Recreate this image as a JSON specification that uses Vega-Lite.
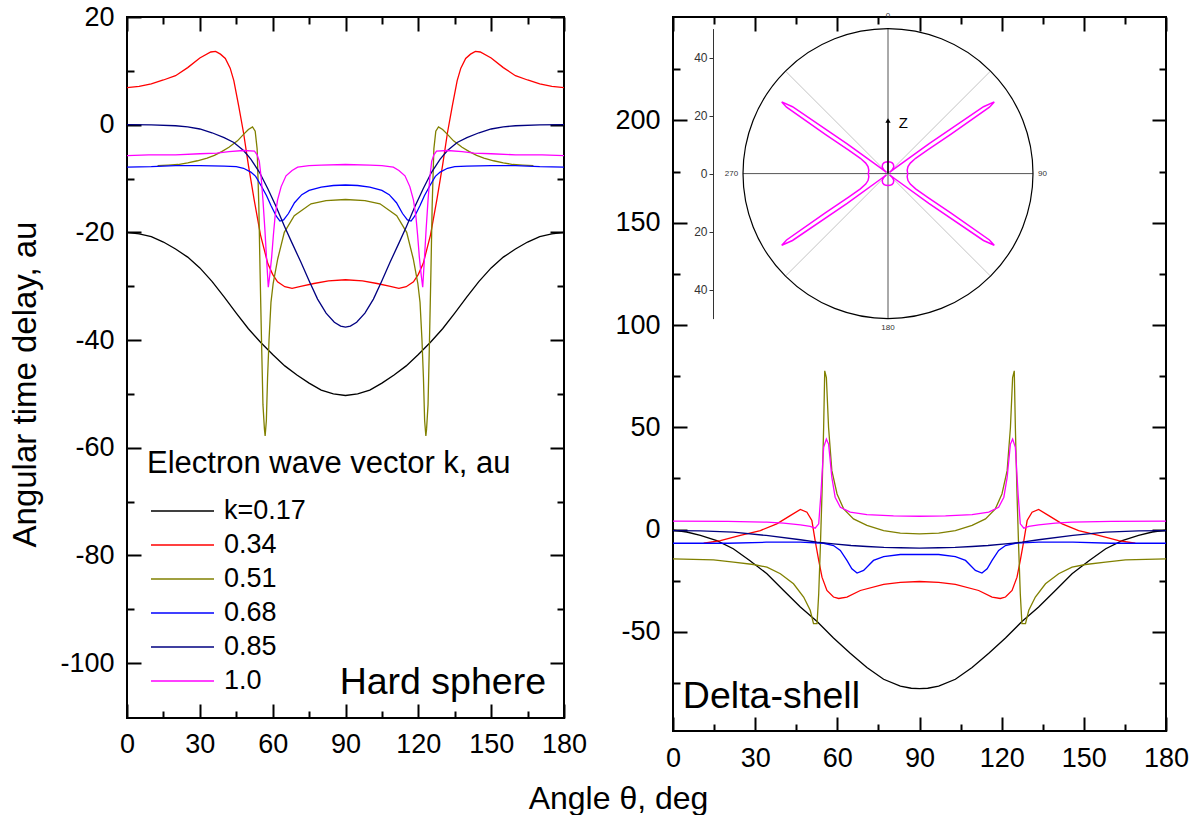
{
 "$schema": "https://vega.github.io/schema/vega-lite/v6.json",
 "background": "white",
 "padding": {"left": 8, "top": 2, "right": 0, "bottom": 0},
 "config": {
  "view": {"stroke": "black", "strokeWidth": 2},
  "font": "Liberation Sans",
  "axis": {"grid": false, "domain": false, "labelFlush": false, "labelOverlap": false, "labelFont": "Liberation Sans", "titleFont": "Liberation Sans", "labelColor": "black", "tickColor": "black", "tickWidth": 2, "titleColor": "black", "titleFontWeight": "normal"},
  "text": {"font": "Liberation Sans"}
 },
 "datasets": {
  "hard": [
   {"k":"k=0.17","theta":0,"delay":-20},{"k":"k=0.17","theta":5,"delay":-20.3},{"k":"k=0.17","theta":10,"delay":-20.8},{"k":"k=0.17","theta":15,"delay":-21.8},{"k":"k=0.17","theta":20,"delay":-23.1},{"k":"k=0.17","theta":25,"delay":-24.6},{"k":"k=0.17","theta":30,"delay":-26.6},{"k":"k=0.17","theta":35,"delay":-29.1},{"k":"k=0.17","theta":40,"delay":-32},{"k":"k=0.17","theta":45,"delay":-35},{"k":"k=0.17","theta":50,"delay":-37.9},{"k":"k=0.17","theta":55,"delay":-40.4},{"k":"k=0.17","theta":60,"delay":-42.7},{"k":"k=0.17","theta":65,"delay":-44.8},{"k":"k=0.17","theta":70,"delay":-46.5},{"k":"k=0.17","theta":75,"delay":-48},{"k":"k=0.17","theta":80,"delay":-49.3},{"k":"k=0.17","theta":85,"delay":-50},{"k":"k=0.17","theta":90,"delay":-50.3},{"k":"k=0.17","theta":95,"delay":-50},{"k":"k=0.17","theta":100,"delay":-49.3},{"k":"k=0.17","theta":105,"delay":-48},{"k":"k=0.17","theta":110,"delay":-46.5},{"k":"k=0.17","theta":115,"delay":-44.8},{"k":"k=0.17","theta":120,"delay":-42.7},{"k":"k=0.17","theta":125,"delay":-40.4},{"k":"k=0.17","theta":130,"delay":-37.9},{"k":"k=0.17","theta":135,"delay":-35},{"k":"k=0.17","theta":140,"delay":-32},{"k":"k=0.17","theta":145,"delay":-29.1},{"k":"k=0.17","theta":150,"delay":-26.6},{"k":"k=0.17","theta":155,"delay":-24.6},{"k":"k=0.17","theta":160,"delay":-23.1},{"k":"k=0.17","theta":165,"delay":-21.8},{"k":"k=0.17","theta":170,"delay":-20.8},{"k":"k=0.17","theta":175,"delay":-20.3},{"k":"k=0.17","theta":180,"delay":-20},
   {"k":"0.34","theta":0,"delay":6.9},{"k":"0.34","theta":5,"delay":7.1},{"k":"0.34","theta":10,"delay":7.6},{"k":"0.34","theta":15,"delay":8.3},{"k":"0.34","theta":20,"delay":9.1},{"k":"0.34","theta":25,"delay":10.6},{"k":"0.34","theta":30,"delay":12.4},{"k":"0.34","theta":34.5,"delay":13.5},{"k":"0.34","theta":36.5,"delay":13.6},{"k":"0.34","theta":38.5,"delay":13.1},{"k":"0.34","theta":40.5,"delay":12.3},{"k":"0.34","theta":42.5,"delay":10.5},{"k":"0.34","theta":44,"delay":8.2},{"k":"0.34","theta":46,"delay":3.5},{"k":"0.34","theta":48,"delay":-1.5},{"k":"0.34","theta":50,"delay":-7.5},{"k":"0.34","theta":52.4,"delay":-14},{"k":"0.34","theta":55,"delay":-20.5},{"k":"0.34","theta":58,"delay":-25.8},{"k":"0.34","theta":60,"delay":-27.8},{"k":"0.34","theta":62,"delay":-29.2},{"k":"0.34","theta":65,"delay":-30.1},{"k":"0.34","theta":68,"delay":-30.4},{"k":"0.34","theta":72,"delay":-30},{"k":"0.34","theta":77,"delay":-29.5},{"k":"0.34","theta":83,"delay":-29},{"k":"0.34","theta":90,"delay":-28.8},{"k":"0.34","theta":97,"delay":-29},{"k":"0.34","theta":103,"delay":-29.5},{"k":"0.34","theta":108,"delay":-30},{"k":"0.34","theta":112,"delay":-30.4},{"k":"0.34","theta":115,"delay":-30.1},{"k":"0.34","theta":118,"delay":-29.2},{"k":"0.34","theta":120,"delay":-27.8},{"k":"0.34","theta":122,"delay":-25.8},{"k":"0.34","theta":125,"delay":-20.5},{"k":"0.34","theta":127.6,"delay":-14},{"k":"0.34","theta":130,"delay":-7.5},{"k":"0.34","theta":132,"delay":-1.5},{"k":"0.34","theta":134,"delay":3.5},{"k":"0.34","theta":136,"delay":8.2},{"k":"0.34","theta":137.5,"delay":10.5},{"k":"0.34","theta":139.5,"delay":12.3},{"k":"0.34","theta":141.5,"delay":13.1},{"k":"0.34","theta":143.5,"delay":13.6},{"k":"0.34","theta":145.5,"delay":13.5},{"k":"0.34","theta":150,"delay":12.4},{"k":"0.34","theta":155,"delay":10.6},{"k":"0.34","theta":160,"delay":9.1},{"k":"0.34","theta":165,"delay":8.3},{"k":"0.34","theta":170,"delay":7.6},{"k":"0.34","theta":175,"delay":7.1},{"k":"0.34","theta":180,"delay":6.9},
   {"k":"0.51","theta":12.6,"delay":-7.6},{"k":"0.51","theta":17,"delay":-7.5},{"k":"0.51","theta":21,"delay":-7.4},{"k":"0.51","theta":25,"delay":-7.1},{"k":"0.51","theta":29,"delay":-6.7},{"k":"0.51","theta":33,"delay":-6.2},{"k":"0.51","theta":36,"delay":-5.7},{"k":"0.51","theta":39,"delay":-5},{"k":"0.51","theta":42,"delay":-4.2},{"k":"0.51","theta":45.5,"delay":-3},{"k":"0.51","theta":48,"delay":-1.8},{"k":"0.51","theta":50,"delay":-0.9},{"k":"0.51","theta":51.7,"delay":-0.4},{"k":"0.51","theta":52.8,"delay":-1.2},{"k":"0.51","theta":53.6,"delay":-4.5},{"k":"0.51","theta":54.3,"delay":-15},{"k":"0.51","theta":54.8,"delay":-27},{"k":"0.51","theta":55.4,"delay":-40},{"k":"0.51","theta":56,"delay":-52},{"k":"0.51","theta":56.6,"delay":-56.5},{"k":"0.51","theta":56.9,"delay":-57.8},{"k":"0.51","theta":57.4,"delay":-55},{"k":"0.51","theta":57.9,"delay":-47},{"k":"0.51","theta":58.5,"delay":-40},{"k":"0.51","theta":59.3,"delay":-33},{"k":"0.51","theta":60.2,"delay":-29.5},{"k":"0.51","theta":62.1,"delay":-24.9},{"k":"0.51","theta":64.8,"delay":-20},{"k":"0.51","theta":68.9,"delay":-16.9},{"k":"0.51","theta":75.8,"delay":-14.7},{"k":"0.51","theta":82,"delay":-14.1},{"k":"0.51","theta":90,"delay":-13.9},{"k":"0.51","theta":98,"delay":-14.1},{"k":"0.51","theta":104.2,"delay":-14.7},{"k":"0.51","theta":111.1,"delay":-16.9},{"k":"0.51","theta":115.2,"delay":-20},{"k":"0.51","theta":117.9,"delay":-24.9},{"k":"0.51","theta":119.8,"delay":-29.5},{"k":"0.51","theta":120.7,"delay":-33},{"k":"0.51","theta":121.5,"delay":-40},{"k":"0.51","theta":122.1,"delay":-47},{"k":"0.51","theta":122.6,"delay":-55},{"k":"0.51","theta":123.1,"delay":-57.8},{"k":"0.51","theta":123.4,"delay":-56.5},{"k":"0.51","theta":124,"delay":-52},{"k":"0.51","theta":124.6,"delay":-40},{"k":"0.51","theta":125.2,"delay":-27},{"k":"0.51","theta":125.7,"delay":-15},{"k":"0.51","theta":126.4,"delay":-4.5},{"k":"0.51","theta":127.2,"delay":-1.2},{"k":"0.51","theta":128.3,"delay":-0.4},{"k":"0.51","theta":130,"delay":-0.9},{"k":"0.51","theta":132,"delay":-1.8},{"k":"0.51","theta":134.5,"delay":-3},{"k":"0.51","theta":138,"delay":-4.2},{"k":"0.51","theta":141,"delay":-5},{"k":"0.51","theta":144,"delay":-5.7},{"k":"0.51","theta":147,"delay":-6.2},{"k":"0.51","theta":151,"delay":-6.7},{"k":"0.51","theta":155,"delay":-7.1},{"k":"0.51","theta":159,"delay":-7.4},{"k":"0.51","theta":163,"delay":-7.5},{"k":"0.51","theta":167.4,"delay":-7.6},
   {"k":"0.68","theta":0,"delay":-7.9},{"k":"0.68","theta":10,"delay":-7.8},{"k":"0.68","theta":20,"delay":-7.6},{"k":"0.68","theta":30,"delay":-7.6},{"k":"0.68","theta":40,"delay":-7.7},{"k":"0.68","theta":45,"delay":-7.8},{"k":"0.68","theta":48,"delay":-8.1},{"k":"0.68","theta":51,"delay":-8.8},{"k":"0.68","theta":53,"delay":-9.6},{"k":"0.68","theta":55.2,"delay":-11.3},{"k":"0.68","theta":57.5,"delay":-13.2},{"k":"0.68","theta":59.3,"delay":-15},{"k":"0.68","theta":61.5,"delay":-17},{"k":"0.68","theta":63,"delay":-17.9},{"k":"0.68","theta":64.5,"delay":-17.7},{"k":"0.68","theta":66.5,"delay":-16.5},{"k":"0.68","theta":69,"delay":-14.5},{"k":"0.68","theta":72,"delay":-13},{"k":"0.68","theta":75,"delay":-12.2},{"k":"0.68","theta":80,"delay":-11.6},{"k":"0.68","theta":85,"delay":-11.3},{"k":"0.68","theta":90,"delay":-11.2},{"k":"0.68","theta":95,"delay":-11.3},{"k":"0.68","theta":100,"delay":-11.6},{"k":"0.68","theta":105,"delay":-12.2},{"k":"0.68","theta":108,"delay":-13},{"k":"0.68","theta":111,"delay":-14.5},{"k":"0.68","theta":113.5,"delay":-16.5},{"k":"0.68","theta":115.5,"delay":-17.7},{"k":"0.68","theta":117,"delay":-17.9},{"k":"0.68","theta":118.5,"delay":-17},{"k":"0.68","theta":120.7,"delay":-15},{"k":"0.68","theta":122.5,"delay":-13.2},{"k":"0.68","theta":124.8,"delay":-11.3},{"k":"0.68","theta":127,"delay":-9.6},{"k":"0.68","theta":129,"delay":-8.8},{"k":"0.68","theta":132,"delay":-8.1},{"k":"0.68","theta":135,"delay":-7.8},{"k":"0.68","theta":140,"delay":-7.7},{"k":"0.68","theta":150,"delay":-7.6},{"k":"0.68","theta":160,"delay":-7.6},{"k":"0.68","theta":170,"delay":-7.8},{"k":"0.68","theta":180,"delay":-7.9},
   {"k":"0.85","theta":0,"delay":0},{"k":"0.85","theta":10,"delay":-0.05},{"k":"0.85","theta":20,"delay":-0.2},{"k":"0.85","theta":25,"delay":-0.4},{"k":"0.85","theta":30,"delay":-0.8},{"k":"0.85","theta":35,"delay":-1.5},{"k":"0.85","theta":40,"delay":-2.4},{"k":"0.85","theta":44,"delay":-3.3},{"k":"0.85","theta":48,"delay":-4.8},{"k":"0.85","theta":51,"delay":-6.4},{"k":"0.85","theta":54.5,"delay":-8.8},{"k":"0.85","theta":58,"delay":-11.9},{"k":"0.85","theta":61.5,"delay":-15.3},{"k":"0.85","theta":64.8,"delay":-18.8},{"k":"0.85","theta":68,"delay":-22},{"k":"0.85","theta":71.7,"delay":-25.6},{"k":"0.85","theta":75,"delay":-29},{"k":"0.85","theta":78.5,"delay":-32.4},{"k":"0.85","theta":82,"delay":-35},{"k":"0.85","theta":85.4,"delay":-36.7},{"k":"0.85","theta":88,"delay":-37.4},{"k":"0.85","theta":90,"delay":-37.6},{"k":"0.85","theta":92,"delay":-37.4},{"k":"0.85","theta":94.6,"delay":-36.7},{"k":"0.85","theta":98,"delay":-35},{"k":"0.85","theta":101.5,"delay":-32.4},{"k":"0.85","theta":105,"delay":-29},{"k":"0.85","theta":108.3,"delay":-25.6},{"k":"0.85","theta":112,"delay":-22},{"k":"0.85","theta":115.2,"delay":-18.8},{"k":"0.85","theta":118.5,"delay":-15.3},{"k":"0.85","theta":122,"delay":-11.9},{"k":"0.85","theta":125.5,"delay":-8.8},{"k":"0.85","theta":129,"delay":-6.4},{"k":"0.85","theta":132,"delay":-4.8},{"k":"0.85","theta":136,"delay":-3.3},{"k":"0.85","theta":140,"delay":-2.4},{"k":"0.85","theta":145,"delay":-1.5},{"k":"0.85","theta":150,"delay":-0.8},{"k":"0.85","theta":155,"delay":-0.4},{"k":"0.85","theta":160,"delay":-0.2},{"k":"0.85","theta":170,"delay":-0.05},{"k":"0.85","theta":180,"delay":0},
   {"k":"1.0","theta":0,"delay":-5.75},{"k":"1.0","theta":9,"delay":-5.6},{"k":"1.0","theta":20,"delay":-5.6},{"k":"1.0","theta":30,"delay":-5.4},{"k":"1.0","theta":37,"delay":-5.3},{"k":"1.0","theta":42,"delay":-5},{"k":"1.0","theta":48,"delay":-4.8},{"k":"1.0","theta":52.5,"delay":-4.9},{"k":"1.0","theta":53.6,"delay":-5.6},{"k":"1.0","theta":54.5,"delay":-6.8},{"k":"1.0","theta":55.3,"delay":-10},{"k":"1.0","theta":56,"delay":-14},{"k":"1.0","theta":56.8,"delay":-19.5},{"k":"1.0","theta":57.5,"delay":-25},{"k":"1.0","theta":58.2,"delay":-30.2},{"k":"1.0","theta":58.8,"delay":-28},{"k":"1.0","theta":59.6,"delay":-24.5},{"k":"1.0","theta":60.3,"delay":-20.5},{"k":"1.0","theta":61,"delay":-17},{"k":"1.0","theta":62,"delay":-14},{"k":"1.0","theta":63.5,"delay":-11.5},{"k":"1.0","theta":65.5,"delay":-9.5},{"k":"1.0","theta":68,"delay":-8.5},{"k":"1.0","theta":70.3,"delay":-7.9},{"k":"1.0","theta":75,"delay":-7.6},{"k":"1.0","theta":80,"delay":-7.5},{"k":"1.0","theta":90,"delay":-7.4},{"k":"1.0","theta":100,"delay":-7.5},{"k":"1.0","theta":105,"delay":-7.6},{"k":"1.0","theta":109.7,"delay":-7.9},{"k":"1.0","theta":112,"delay":-8.5},{"k":"1.0","theta":114.5,"delay":-9.5},{"k":"1.0","theta":116.5,"delay":-11.5},{"k":"1.0","theta":118,"delay":-14},{"k":"1.0","theta":119,"delay":-17},{"k":"1.0","theta":119.7,"delay":-20.5},{"k":"1.0","theta":120.4,"delay":-24.5},{"k":"1.0","theta":121.2,"delay":-28},{"k":"1.0","theta":121.8,"delay":-30.2},{"k":"1.0","theta":122.5,"delay":-25},{"k":"1.0","theta":123.2,"delay":-19.5},{"k":"1.0","theta":124,"delay":-14},{"k":"1.0","theta":124.7,"delay":-10},{"k":"1.0","theta":125.5,"delay":-6.8},{"k":"1.0","theta":126.4,"delay":-5.6},{"k":"1.0","theta":127.5,"delay":-4.9},{"k":"1.0","theta":132,"delay":-4.8},{"k":"1.0","theta":138,"delay":-5},{"k":"1.0","theta":143,"delay":-5.3},{"k":"1.0","theta":150,"delay":-5.4},{"k":"1.0","theta":160,"delay":-5.6},{"k":"1.0","theta":171,"delay":-5.6},{"k":"1.0","theta":180,"delay":-5.75}
  ],
  "delta": [
   {"k":"k=0.17","theta":0,"delay":-0.3},{"k":"k=0.17","theta":5,"delay":-1.2},{"k":"k=0.17","theta":10,"delay":-2.9},{"k":"k=0.17","theta":16,"delay":-5.4},{"k":"k=0.17","theta":22,"delay":-9.4},{"k":"k=0.17","theta":28,"delay":-15.1},{"k":"k=0.17","theta":34.3,"delay":-21.6},{"k":"k=0.17","theta":40.4,"delay":-29.8},{"k":"k=0.17","theta":46.5,"delay":-37.9},{"k":"k=0.17","theta":52.6,"delay":-45},{"k":"k=0.17","theta":58.6,"delay":-53},{"k":"k=0.17","theta":64.7,"delay":-60.5},{"k":"k=0.17","theta":70.8,"delay":-67.5},{"k":"k=0.17","theta":76.9,"delay":-73.2},{"k":"k=0.17","theta":83,"delay":-76.6},{"k":"k=0.17","theta":87,"delay":-77.6},{"k":"k=0.17","theta":90,"delay":-77.8},{"k":"k=0.17","theta":93,"delay":-77.6},{"k":"k=0.17","theta":97,"delay":-76.6},{"k":"k=0.17","theta":103.1,"delay":-73.2},{"k":"k=0.17","theta":109.2,"delay":-67.5},{"k":"k=0.17","theta":115.3,"delay":-60.5},{"k":"k=0.17","theta":121.4,"delay":-53},{"k":"k=0.17","theta":127.4,"delay":-45},{"k":"k=0.17","theta":133.5,"delay":-37.9},{"k":"k=0.17","theta":139.6,"delay":-29.8},{"k":"k=0.17","theta":145.7,"delay":-21.6},{"k":"k=0.17","theta":152,"delay":-15.1},{"k":"k=0.17","theta":158,"delay":-9.4},{"k":"k=0.17","theta":164,"delay":-5.4},{"k":"k=0.17","theta":170,"delay":-2.9},{"k":"k=0.17","theta":175,"delay":-1.2},{"k":"k=0.17","theta":180,"delay":-0.3},
   {"k":"0.34","theta":11.2,"delay":-6.7},{"k":"0.34","theta":17.3,"delay":-5.4},{"k":"0.34","theta":24.6,"delay":-2.9},{"k":"0.34","theta":31.9,"delay":-0.5},{"k":"0.34","theta":37.9,"delay":2.8},{"k":"0.34","theta":42.8,"delay":6.8},{"k":"0.34","theta":46.5,"delay":9.8},{"k":"0.34","theta":48.9,"delay":8.5},{"k":"0.34","theta":50.7,"delay":4.4},{"k":"0.34","theta":51.9,"delay":-5.4},{"k":"0.34","theta":53.2,"delay":-15.1},{"k":"0.34","theta":54.4,"delay":-23.3},{"k":"0.34","theta":56.2,"delay":-29.8},{"k":"0.34","theta":58.6,"delay":-33},{"k":"0.34","theta":60.5,"delay":-33.7},{"k":"0.34","theta":63.5,"delay":-33},{"k":"0.34","theta":68.4,"delay":-29.8},{"k":"0.34","theta":76.9,"delay":-26.8},{"k":"0.34","theta":83,"delay":-25.8},{"k":"0.34","theta":90,"delay":-25.4},{"k":"0.34","theta":97,"delay":-25.8},{"k":"0.34","theta":103.1,"delay":-26.8},{"k":"0.34","theta":111.6,"delay":-29.8},{"k":"0.34","theta":116.5,"delay":-33},{"k":"0.34","theta":119.5,"delay":-33.7},{"k":"0.34","theta":121.4,"delay":-33},{"k":"0.34","theta":123.8,"delay":-29.8},{"k":"0.34","theta":125.6,"delay":-23.3},{"k":"0.34","theta":126.8,"delay":-15.1},{"k":"0.34","theta":128.1,"delay":-5.4},{"k":"0.34","theta":129.3,"delay":4.4},{"k":"0.34","theta":131.1,"delay":8.5},{"k":"0.34","theta":133.5,"delay":9.8},{"k":"0.34","theta":137.2,"delay":6.8},{"k":"0.34","theta":142.1,"delay":2.8},{"k":"0.34","theta":148.1,"delay":-0.5},{"k":"0.34","theta":155.4,"delay":-2.9},{"k":"0.34","theta":162.7,"delay":-5.4},{"k":"0.34","theta":168.8,"delay":-6.7},
   {"k":"0.51","theta":0,"delay":-14.3},{"k":"0.51","theta":14.8,"delay":-14.8},{"k":"0.51","theta":22.1,"delay":-15.9},{"k":"0.51","theta":29.4,"delay":-17.1},{"k":"0.51","theta":34.3,"delay":-18.4},{"k":"0.51","theta":39.2,"delay":-21.6},{"k":"0.51","theta":44,"delay":-26.5},{"k":"0.51","theta":47.7,"delay":-33},{"k":"0.51","theta":50.1,"delay":-39.5},{"k":"0.51","theta":51.3,"delay":-46},{"k":"0.51","theta":52.6,"delay":-46},{"k":"0.51","theta":53.2,"delay":-31.4},{"k":"0.51","theta":53.8,"delay":-8.6},{"k":"0.51","theta":54.4,"delay":17.4},{"k":"0.51","theta":55,"delay":49.9},{"k":"0.51","theta":55.4,"delay":77.6},{"k":"0.51","theta":56,"delay":74.3},{"k":"0.51","theta":56.8,"delay":49.9},{"k":"0.51","theta":58,"delay":28.8},{"k":"0.51","theta":59.9,"delay":17.4},{"k":"0.51","theta":62.3,"delay":10.1},{"k":"0.51","theta":65.9,"delay":5.2},{"k":"0.51","theta":70.8,"delay":2},{"k":"0.51","theta":76.9,"delay":-0.5},{"k":"0.51","theta":83,"delay":-1.8},{"k":"0.51","theta":90,"delay":-2.1},{"k":"0.51","theta":97,"delay":-1.8},{"k":"0.51","theta":103.1,"delay":-0.5},{"k":"0.51","theta":109.2,"delay":2},{"k":"0.51","theta":114.1,"delay":5.2},{"k":"0.51","theta":117.7,"delay":10.1},{"k":"0.51","theta":120.1,"delay":17.4},{"k":"0.51","theta":122,"delay":28.8},{"k":"0.51","theta":123.2,"delay":49.9},{"k":"0.51","theta":124,"delay":74.3},{"k":"0.51","theta":124.6,"delay":77.6},{"k":"0.51","theta":125,"delay":49.9},{"k":"0.51","theta":125.6,"delay":17.4},{"k":"0.51","theta":126.2,"delay":-8.6},{"k":"0.51","theta":126.8,"delay":-31.4},{"k":"0.51","theta":127.4,"delay":-46},{"k":"0.51","theta":128.7,"delay":-46},{"k":"0.51","theta":129.9,"delay":-39.5},{"k":"0.51","theta":132.3,"delay":-33},{"k":"0.51","theta":136,"delay":-26.5},{"k":"0.51","theta":140.8,"delay":-21.6},{"k":"0.51","theta":145.7,"delay":-18.4},{"k":"0.51","theta":150.6,"delay":-17.1},{"k":"0.51","theta":157.9,"delay":-15.9},{"k":"0.51","theta":165.2,"delay":-14.8},{"k":"0.51","theta":180,"delay":-14.3},
   {"k":"0.68","theta":0,"delay":-6.7},{"k":"0.68","theta":20,"delay":-6.7},{"k":"0.68","theta":34,"delay":-6.2},{"k":"0.68","theta":46.5,"delay":-6.2},{"k":"0.68","theta":55,"delay":-6.7},{"k":"0.68","theta":58.6,"delay":-7.8},{"k":"0.68","theta":61.1,"delay":-10.2},{"k":"0.68","theta":63.5,"delay":-15.1},{"k":"0.68","theta":65.3,"delay":-19.2},{"k":"0.68","theta":67.2,"delay":-21.3},{"k":"0.68","theta":69.6,"delay":-20},{"k":"0.68","theta":73.2,"delay":-15.1},{"k":"0.68","theta":76.9,"delay":-13.2},{"k":"0.68","theta":83,"delay":-12.2},{"k":"0.68","theta":90,"delay":-12.2},{"k":"0.68","theta":97,"delay":-12.2},{"k":"0.68","theta":103.1,"delay":-13.2},{"k":"0.68","theta":106.8,"delay":-15.1},{"k":"0.68","theta":110.4,"delay":-20},{"k":"0.68","theta":112.8,"delay":-21.3},{"k":"0.68","theta":114.7,"delay":-19.2},{"k":"0.68","theta":116.5,"delay":-15.1},{"k":"0.68","theta":118.9,"delay":-10.2},{"k":"0.68","theta":121.4,"delay":-7.8},{"k":"0.68","theta":125,"delay":-6.7},{"k":"0.68","theta":133.5,"delay":-6.2},{"k":"0.68","theta":146,"delay":-6.2},{"k":"0.68","theta":160,"delay":-6.7},{"k":"0.68","theta":180,"delay":-6.7},
   {"k":"0.85","theta":0,"delay":-0.5},{"k":"0.85","theta":10,"delay":-0.7},{"k":"0.85","theta":22,"delay":-1.3},{"k":"0.85","theta":34,"delay":-2.9},{"k":"0.85","theta":46.5,"delay":-5},{"k":"0.85","theta":52.6,"delay":-6.2},{"k":"0.85","theta":58.6,"delay":-7},{"k":"0.85","theta":65,"delay":-7.8},{"k":"0.85","theta":70.8,"delay":-8.3},{"k":"0.85","theta":77,"delay":-8.7},{"k":"0.85","theta":83,"delay":-8.9},{"k":"0.85","theta":90,"delay":-9.1},{"k":"0.85","theta":97,"delay":-8.9},{"k":"0.85","theta":103,"delay":-8.7},{"k":"0.85","theta":109.2,"delay":-8.3},{"k":"0.85","theta":115,"delay":-7.8},{"k":"0.85","theta":121.4,"delay":-7},{"k":"0.85","theta":127.4,"delay":-6.2},{"k":"0.85","theta":133.5,"delay":-5},{"k":"0.85","theta":146,"delay":-2.9},{"k":"0.85","theta":158,"delay":-1.3},{"k":"0.85","theta":170,"delay":-0.7},{"k":"0.85","theta":180,"delay":-0.5},
   {"k":"1.0","theta":0,"delay":4.1},{"k":"1.0","theta":20,"delay":4},{"k":"1.0","theta":34.3,"delay":3.6},{"k":"1.0","theta":40.4,"delay":3.1},{"k":"1.0","theta":46.5,"delay":2.3},{"k":"1.0","theta":50.1,"delay":1.6},{"k":"1.0","theta":51.9,"delay":0.7},{"k":"1.0","theta":53.2,"delay":2.8},{"k":"1.0","theta":54,"delay":17.4},{"k":"1.0","theta":55,"delay":40.2},{"k":"1.0","theta":56,"delay":44.2},{"k":"1.0","theta":56.8,"delay":41.8},{"k":"1.0","theta":58,"delay":25.5},{"k":"1.0","theta":59.2,"delay":15.8},{"k":"1.0","theta":61.1,"delay":10.9},{"k":"1.0","theta":64.7,"delay":8.5},{"k":"1.0","theta":70.8,"delay":7.3},{"k":"1.0","theta":80.5,"delay":6.7},{"k":"1.0","theta":90,"delay":6.5},{"k":"1.0","theta":99.5,"delay":6.7},{"k":"1.0","theta":109.2,"delay":7.3},{"k":"1.0","theta":115.3,"delay":8.5},{"k":"1.0","theta":118.9,"delay":10.9},{"k":"1.0","theta":120.8,"delay":15.8},{"k":"1.0","theta":122,"delay":25.5},{"k":"1.0","theta":123.2,"delay":41.8},{"k":"1.0","theta":124,"delay":44.2},{"k":"1.0","theta":125,"delay":40.2},{"k":"1.0","theta":126,"delay":17.4},{"k":"1.0","theta":126.8,"delay":2.8},{"k":"1.0","theta":128.1,"delay":0.7},{"k":"1.0","theta":129.9,"delay":1.6},{"k":"1.0","theta":133.5,"delay":2.3},{"k":"1.0","theta":139.6,"delay":3.1},{"k":"1.0","theta":145.7,"delay":3.6},{"k":"1.0","theta":160,"delay":4},{"k":"1.0","theta":180,"delay":4.1}
  ],
  "polar": [
   {"o":1,"px":0,"py":4.1},{"o":2,"px":0.71,"py":4.04},{"o":3,"px":1.37,"py":3.76},{"o":4,"px":1.85,"py":3.2},{"o":5,"px":1.99,"py":2.37},{"o":6,"px":1.65,"py":1.6},{"o":7,"px":1.23,"py":1.03},{"o":8,"px":0.55,"py":0.43},{"o":9,"px":2.24,"py":1.69},{"o":10,"px":14.08,"py":10.23},{"o":11,"px":32.93,"py":23.06},{"o":12,"px":36.64,"py":24.72},{"o":13,"px":34.98,"py":22.89},{"o":14,"px":21.63,"py":13.51},{"o":15,"px":13.57,"py":8.09},{"o":16,"px":9.53,"py":5.28},{"o":17,"px":7.69,"py":3.63},{"o":18,"px":6.89,"py":2.4},{"o":19,"px":6.61,"py":1.11},{"o":20,"px":6.8,"py":0},
   {"o":21,"px":6.61,"py":-1.11},{"o":22,"px":6.89,"py":-2.4},{"o":23,"px":7.69,"py":-3.63},{"o":24,"px":9.53,"py":-5.28},{"o":25,"px":13.57,"py":-8.09},{"o":26,"px":21.63,"py":-13.51},{"o":27,"px":34.98,"py":-22.89},{"o":28,"px":36.64,"py":-24.72},{"o":29,"px":32.93,"py":-23.06},{"o":30,"px":14.08,"py":-10.23},{"o":31,"px":2.24,"py":-1.69},{"o":32,"px":0.55,"py":-0.43},{"o":33,"px":1.23,"py":-1.03},{"o":34,"px":1.65,"py":-1.6},{"o":35,"px":1.99,"py":-2.37},{"o":36,"px":1.85,"py":-3.2},{"o":37,"px":1.37,"py":-3.76},{"o":38,"px":0.71,"py":-4.04},{"o":39,"px":0,"py":-4.1},
   {"o":40,"px":-0.71,"py":-4.04},{"o":41,"px":-1.37,"py":-3.76},{"o":42,"px":-1.85,"py":-3.2},{"o":43,"px":-1.99,"py":-2.37},{"o":44,"px":-1.65,"py":-1.6},{"o":45,"px":-1.23,"py":-1.03},{"o":46,"px":-0.55,"py":-0.43},{"o":47,"px":-2.24,"py":-1.69},{"o":48,"px":-14.08,"py":-10.23},{"o":49,"px":-32.93,"py":-23.06},{"o":50,"px":-36.64,"py":-24.72},{"o":51,"px":-34.98,"py":-22.89},{"o":52,"px":-21.63,"py":-13.51},{"o":53,"px":-13.57,"py":-8.09},{"o":54,"px":-9.53,"py":-5.28},{"o":55,"px":-7.69,"py":-3.63},{"o":56,"px":-6.89,"py":-2.4},{"o":57,"px":-6.61,"py":-1.11},{"o":58,"px":-6.8,"py":0},
   {"o":59,"px":-6.61,"py":1.11},{"o":60,"px":-6.89,"py":2.4},{"o":61,"px":-7.69,"py":3.63},{"o":62,"px":-9.53,"py":5.28},{"o":63,"px":-13.57,"py":8.09},{"o":64,"px":-21.63,"py":13.51},{"o":65,"px":-34.98,"py":22.89},{"o":66,"px":-36.64,"py":24.72},{"o":67,"px":-32.93,"py":23.06},{"o":68,"px":-14.08,"py":10.23},{"o":69,"px":-2.24,"py":1.69},{"o":70,"px":-0.55,"py":0.43},{"o":71,"px":-1.23,"py":1.03},{"o":72,"px":-1.65,"py":1.6},{"o":73,"px":-1.99,"py":2.37},{"o":74,"px":-1.85,"py":3.2},{"o":75,"px":-1.37,"py":3.76},{"o":76,"px":-0.71,"py":4.04},{"o":77,"px":0,"py":4.1}
  ]
 },
 "spacing": 109,
 "bounds": "flush",
 "resolve": {"scale": {"color": "independent"}, "legend": {"color": "independent"}},
 "hconcat": [
  {
   "width": 437,
   "height": 701,
   "resolve": {"axis": {"x": "independent", "y": "independent"}},
   "layer": [
    {
     "data": {"name": "hard"},
     "mark": {"type": "line", "strokeWidth": 1.3},
     "encoding": {
      "x": {"field": "theta", "type": "quantitative", "scale": {"domain": [0, 180], "nice": false, "zero": false},
            "axis": {"orient": "bottom", "values": [0, 30, 60, 90, 120, 150, 180], "labelExpr": "'' + datum.value", "tickSize": -14, "labelFontSize": 27, "labelPadding": 27, "title": "Angle θ, deg", "titleFontSize": 32, "titleX": 491, "titleY": 90, "titleAlign": "center", "titleBaseline": "alphabetic"}},
      "y": {"field": "delay", "type": "quantitative", "scale": {"domain": [-110.2, 20], "nice": false, "zero": false},
            "axis": {"orient": "left", "values": [-100, -80, -60, -40, -20, 0, 20], "labelExpr": "'' + datum.value", "tickSize": -14, "labelFontSize": 27, "labelPadding": 27, "title": "Angular time delay, au", "titleFontSize": 33, "titleX": -92, "titleY": 367, "titleAngle": 270, "titleAlign": "center", "titleBaseline": "alphabetic"}},
      "color": {"field": "k", "type": "nominal",
                "scale": {"domain": ["k=0.17", "0.34", "0.51", "0.68", "0.85", "1.0"], "range": ["#000000", "#ff0000", "#808000", "#0000ff", "#000080", "#ff00ff"]},
                "legend": {"title": "Electron wave vector k, au", "orient": "none", "legendX": 20, "legendY": 431.5, "titleFontSize": 31, "titleFont": "Liberation Sans", "titleFontWeight": "normal", "titleColor": "black", "titlePadding": 18, "titleLimit": 600, "labelFontSize": 27, "labelFont": "Liberation Sans", "labelColor": "black", "labelLimit": 300, "symbolType": "M-4,0H4", "symbolSize": 248, "symbolStrokeWidth": 1.5, "symbolOffset": 22, "labelOffset": 28, "rowPadding": 6, "padding": 0}}
     }
    },
    {
     "data": {"values": [{"label": "Hard sphere"}]},
     "mark": {"type": "text", "fontSize": 37.5, "align": "right", "baseline": "alphabetic", "color": "black"},
     "encoding": {
      "x": {"datum": 172.6, "type": "quantitative", "axis": null},
      "y": {"datum": -105.8, "type": "quantitative", "axis": null},
      "text": {"field": "label"}
     }
    },
    {
     "data": {"values": [{"theta": 0, "delay": 0}]},
     "mark": {"type": "point", "opacity": 0},
     "encoding": {
      "x": {"field": "theta", "type": "quantitative", "axis": {"orient": "top", "values": [0, 30, 60, 90, 120, 150, 180], "tickSize": -14, "labels": false, "title": null}},
      "y": {"field": "delay", "type": "quantitative", "axis": {"orient": "right", "values": [-100, -80, -60, -40, -20, 0, 20], "tickSize": -14, "labels": false, "title": null}}
     }
    },
    {
     "data": {"values": [{"theta": 0, "delay": 0}]},
     "mark": {"type": "point", "opacity": 0},
     "encoding": {
      "x": {"field": "theta", "type": "quantitative", "axis": {"orient": "bottom", "values": [15, 45, 75, 105, 135, 165], "tickSize": -7, "labels": false, "title": null}},
      "y": {"field": "delay", "type": "quantitative", "axis": {"orient": "left", "values": [-90, -70, -50, -30, -10, 10], "tickSize": -7, "labels": false, "title": null}}
     }
    },
    {
     "data": {"values": [{"theta": 0, "delay": 0}]},
     "mark": {"type": "point", "opacity": 0},
     "encoding": {
      "x": {"field": "theta", "type": "quantitative", "axis": {"orient": "top", "values": [15, 45, 75, 105, 135, 165], "tickSize": -7, "labels": false, "title": null}},
      "y": {"field": "delay", "type": "quantitative", "axis": {"orient": "right", "values": [-90, -70, -50, -30, -10, 10], "tickSize": -7, "labels": false, "title": null}}
     }
    }
   ]
  },
  {
   "width": 493,
   "height": 714,
   "resolve": {"scale": {"x": "independent", "y": "independent"}, "axis": {"x": "independent", "y": "independent"}},
   "layer": [
    {
     "data": {"name": "delta"},
     "mark": {"type": "line", "strokeWidth": 1.3},
     "encoding": {
      "x": {"field": "theta", "type": "quantitative", "scale": {"domain": [0, 180], "nice": false, "zero": false},
            "axis": {"orient": "bottom", "values": [0, 30, 60, 90, 120, 150, 180], "labelExpr": "'' + datum.value", "tickSize": -14, "labelFontSize": 27, "labelPadding": 28, "title": null}},
      "y": {"field": "delay", "type": "quantitative", "scale": {"domain": [-98.5, 250.6], "nice": false, "zero": false},
            "axis": {"orient": "left", "values": [-50, 0, 50, 100, 150, 200], "labelExpr": "'' + datum.value", "tickSize": -14, "labelFontSize": 27, "labelPadding": 27, "title": null}},
      "color": {"field": "k", "type": "nominal",
                "scale": {"domain": ["k=0.17", "0.34", "0.51", "0.68", "0.85", "1.0"], "range": ["#000000", "#ff0000", "#808000", "#0000ff", "#000080", "#ff00ff"]},
                "legend": null}
     }
    },
    {
     "data": {"values": [{"label": "Delta-shell"}]},
     "mark": {"type": "text", "fontSize": 37.5, "align": "left", "baseline": "alphabetic", "color": "black"},
     "encoding": {
      "x": {"datum": 3.6, "type": "quantitative", "scale": {"domain": [0, 180], "nice": false, "zero": false}, "axis": null},
      "y": {"datum": -87.2, "type": "quantitative", "scale": {"domain": [-98.5, 250.6], "nice": false, "zero": false}, "axis": null},
      "text": {"field": "label"}
     }
    },
    {
     "data": {"values": [{"theta": 0, "delay": 0}]},
     "mark": {"type": "point", "opacity": 0},
     "encoding": {
      "x": {"field": "theta", "type": "quantitative", "scale": {"domain": [0, 180], "nice": false, "zero": false}, "axis": {"orient": "top", "values": [0, 30, 60, 90, 120, 150, 180], "tickSize": -14, "labels": false, "title": null}},
      "y": {"field": "delay", "type": "quantitative", "scale": {"domain": [-98.5, 250.6], "nice": false, "zero": false}, "axis": {"orient": "right", "values": [-50, 0, 50, 100, 150, 200], "tickSize": -14, "labels": false, "title": null}}
     }
    },
    {
     "data": {"values": [{"theta": 0, "delay": 0}]},
     "mark": {"type": "point", "opacity": 0},
     "encoding": {
      "x": {"field": "theta", "type": "quantitative", "scale": {"domain": [0, 180], "nice": false, "zero": false}, "axis": {"orient": "bottom", "values": [15, 45, 75, 105, 135, 165], "tickSize": -7, "labels": false, "title": null}},
      "y": {"field": "delay", "type": "quantitative", "scale": {"domain": [-98.5, 250.6], "nice": false, "zero": false}, "axis": {"orient": "left", "values": [-75, -25, 25, 75, 125, 175, 225], "tickSize": -7, "labels": false, "title": null}}
     }
    },
    {
     "data": {"values": [{"theta": 0, "delay": 0}]},
     "mark": {"type": "point", "opacity": 0},
     "encoding": {
      "x": {"field": "theta", "type": "quantitative", "scale": {"domain": [0, 180], "nice": false, "zero": false}, "axis": {"orient": "top", "values": [15, 45, 75, 105, 135, 165], "tickSize": -7, "labels": false, "title": null}},
      "y": {"field": "delay", "type": "quantitative", "scale": {"domain": [-98.5, 250.6], "nice": false, "zero": false}, "axis": {"orient": "right", "values": [-75, -25, 25, 75, 125, 175, 225], "tickSize": -7, "labels": false, "title": null}}
     }
    },
    {
     "data": {"values": [{"x1": -35.36, "y1": 35.36, "x2": 35.36, "y2": -35.36}, {"x1": 35.36, "y1": 35.36, "x2": -35.36, "y2": -35.36}]},
     "mark": {"type": "rule", "color": "#c4c4c4", "strokeWidth": 1},
     "encoding": {
      "x": {"field": "x1", "type": "quantitative", "scale": {"domain": [-50, 50], "range": [70, 360], "nice": false, "zero": false}, "axis": null},
      "y": {"field": "y1", "type": "quantitative", "scale": {"domain": [-50, 50], "range": [301.6, 11.6], "nice": false, "zero": false}, "axis": null},
      "x2": {"field": "x2"},
      "y2": {"field": "y2"}
     }
    },
    {
     "data": {"values": [{"x1": -50, "y1": 0, "x2": 50, "y2": 0}, {"x1": 0, "y1": 50, "x2": 0, "y2": -50}]},
     "mark": {"type": "rule", "color": "#555555", "strokeWidth": 1},
     "encoding": {
      "x": {"field": "x1", "type": "quantitative", "scale": {"domain": [-50, 50], "range": [70, 360], "nice": false, "zero": false}, "axis": null},
      "y": {"field": "y1", "type": "quantitative", "scale": {"domain": [-50, 50], "range": [301.6, 11.6], "nice": false, "zero": false}, "axis": null},
      "x2": {"field": "x2"},
      "y2": {"field": "y2"}
     }
    },
    {
     "data": {"values": [{"px": 0, "py": 0}]},
     "mark": {"type": "point", "shape": "circle", "size": 84100, "filled": false, "stroke": "black", "strokeWidth": 1.2, "opacity": 1},
     "encoding": {
      "x": {"field": "px", "type": "quantitative", "scale": {"domain": [-50, 50], "range": [70, 360], "nice": false, "zero": false}, "axis": null},
      "y": {"field": "py", "type": "quantitative", "scale": {"domain": [-50, 50], "range": [301.6, 11.6], "nice": false, "zero": false},
            "axis": {"orient": "left", "offset": -40, "values": [-40, -20, 0, 20, 40], "labelExpr": "abs(datum.value)", "tickSize": 4, "tickWidth": 1, "tickColor": "#333333", "domain": true, "domainColor": "#333333", "domainWidth": 1, "labelFontSize": 12, "labelColor": "#333333", "labelPadding": 2, "title": null}}
     }
    },
    {
     "data": {"name": "polar"},
     "mark": {"type": "line", "color": "#ff00ff", "strokeWidth": 1.5},
     "encoding": {
      "x": {"field": "px", "type": "quantitative", "scale": {"domain": [-50, 50], "range": [70, 360], "nice": false, "zero": false}, "axis": null},
      "y": {"field": "py", "type": "quantitative", "scale": {"domain": [-50, 50], "range": [301.6, 11.6], "nice": false, "zero": false}, "axis": null},
      "order": {"field": "o", "type": "quantitative"}
     }
    },
    {
     "data": {"values": [{"x1": 0, "y1": 0, "x2": 0, "y2": 18.5}]},
     "mark": {"type": "rule", "color": "black", "strokeWidth": 1.5},
     "encoding": {
      "x": {"field": "x1", "type": "quantitative", "scale": {"domain": [-50, 50], "range": [70, 360], "nice": false, "zero": false}, "axis": null},
      "y": {"field": "y1", "type": "quantitative", "scale": {"domain": [-50, 50], "range": [301.6, 11.6], "nice": false, "zero": false}, "axis": null},
      "x2": {"field": "x2"},
      "y2": {"field": "y2"}
     }
    },
    {
     "data": {"values": [{"px": 0, "py": 18.3}]},
     "mark": {"type": "point", "shape": "triangle-up", "filled": true, "color": "black", "size": 28, "opacity": 1},
     "encoding": {
      "x": {"field": "px", "type": "quantitative", "scale": {"domain": [-50, 50], "range": [70, 360], "nice": false, "zero": false}, "axis": null},
      "y": {"field": "py", "type": "quantitative", "scale": {"domain": [-50, 50], "range": [301.6, 11.6], "nice": false, "zero": false}, "axis": null}
     }
    },
    {
     "data": {"values": [{"lab": "0", "px": 0, "py": 54.2}, {"lab": "90", "px": 53.3, "py": 0}, {"lab": "180", "px": 0, "py": -53.3}, {"lab": "270", "px": -54, "py": 0}]},
     "mark": {"type": "text", "fontSize": 8, "align": "center", "baseline": "middle", "color": "#333333"},
     "encoding": {
      "x": {"field": "px", "type": "quantitative", "scale": {"domain": [-50, 50], "range": [70, 360], "nice": false, "zero": false}, "axis": null},
      "y": {"field": "py", "type": "quantitative", "scale": {"domain": [-50, 50], "range": [301.6, 11.6], "nice": false, "zero": false}, "axis": null},
      "text": {"field": "lab"}
     }
    },
    {
     "data": {"values": [{"lab": "Z", "px": 3.7, "py": 17.6}]},
     "mark": {"type": "text", "fontSize": 15, "align": "left", "baseline": "middle", "color": "black"},
     "encoding": {
      "x": {"field": "px", "type": "quantitative", "scale": {"domain": [-50, 50], "range": [70, 360], "nice": false, "zero": false}, "axis": null},
      "y": {"field": "py", "type": "quantitative", "scale": {"domain": [-50, 50], "range": [301.6, 11.6], "nice": false, "zero": false}, "axis": null},
      "text": {"field": "lab"}
     }
    }
   ]
  }
 ]
}
